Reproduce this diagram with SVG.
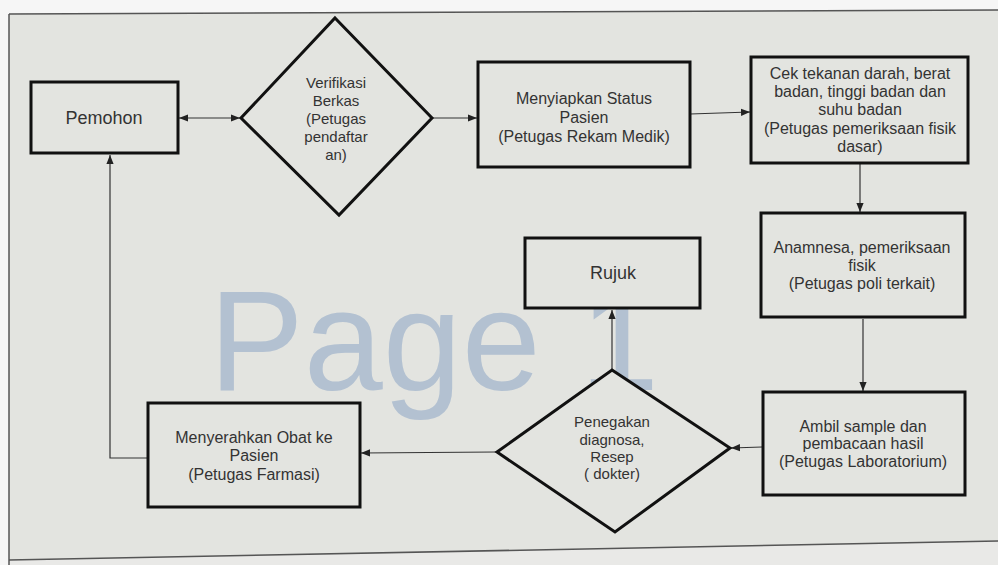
<svg xmlns="http://www.w3.org/2000/svg" width="998" height="565" viewBox="0 0 998 565">
<style>
.box{fill:#e3e4e0;stroke:#111;stroke-width:3}
.t{font-family:"Liberation Sans",Arial,sans-serif;font-size:16px;fill:#333;text-anchor:middle}
.d{font-size:15px}
.big{font-size:18px}
.c{fill:none;stroke:#333;stroke-width:1.2}
.edge{stroke:#555;stroke-width:1.5;fill:none}
.wm{font-family:"Liberation Sans",Arial,sans-serif;font-size:142px;fill:#b3c1d1}
</style>
<defs>
<marker id="ah" viewBox="0 0 10 10" refX="10" refY="5" markerWidth="9" markerHeight="9" orient="auto-start-reverse" markerUnits="userSpaceOnUse"><path d="M0,1 L10,5 L0,9 z" fill="#222"/></marker>
</defs>
<rect x="0" y="0" width="998" height="565" fill="#f6f6f6"/>
<polygon points="9,14 998,10 998,565 9,565" fill="#e3e4e0"/>
<polygon points="9,560 998,541 998,565 9,565" fill="#e9e9e7"/>
<line class="edge" x1="9" y1="14" x2="998" y2="10"/>
<line class="edge" x1="9" y1="14" x2="9" y2="565"/>
<line class="edge" x1="9" y1="560" x2="998" y2="541"/>
<text class="wm" x="209" y="390">Page 1</text>
<g id="connectors">
<path class="c" d="M179,118 L240,118" marker-start="url(#ah)" marker-end="url(#ah)"/>
<path class="c" d="M433,118 L477,118" marker-end="url(#ah)"/>
<path class="c" d="M690,114 L750,112" marker-end="url(#ah)"/>
<path class="c" d="M860,164 L860,212" marker-end="url(#ah)"/>
<path class="c" d="M863,319 L863,391" marker-end="url(#ah)"/>
<path class="c" d="M762,447 L731,448" marker-end="url(#ah)"/>
<path class="c" d="M612,369 L612,310" marker-end="url(#ah)"/>
<path class="c" d="M496,452 L361,453" marker-end="url(#ah)"/>
<path class="c" d="M147,458 H110 V155" marker-end="url(#ah)"/>
</g>
<g id="pemohon">
<rect class="box" x="31" y="82" width="147" height="71"/>
<text class="t big" x="104" y="124">Pemohon</text>
</g>
<g id="verifikasi">
<polygon class="box" points="335,18 432,118 339,215 241,118"/>
<text class="t d"><tspan x="336" y="88">Verifikasi</tspan><tspan x="336" y="106">Berkas</tspan><tspan x="336" y="124">(Petugas</tspan><tspan x="336" y="142">pendaftar</tspan><tspan x="336" y="160">an)</tspan></text>
</g>
<g id="menyiapkan">
<rect class="box" x="478" y="62" width="212" height="105"/>
<text class="t"><tspan x="584" y="104">Menyiapkan Status</tspan><tspan x="584" y="123">Pasien</tspan><tspan x="584" y="142">(Petugas Rekam Medik)</tspan></text>
</g>
<g id="cek">
<rect class="box" x="751" y="57" width="217" height="106"/>
<text class="t"><tspan x="860" y="79">Cek tekanan darah, berat</tspan><tspan x="860" y="97">badan, tinggi badan dan</tspan><tspan x="860" y="115">suhu badan</tspan><tspan x="860" y="134">(Petugas pemeriksaan fisik</tspan><tspan x="860" y="152">dasar)</tspan></text>
</g>
<g id="anamnesa">
<rect class="box" x="761" y="213" width="204" height="104"/>
<text class="t"><tspan x="862" y="253">Anamnesa, pemeriksaan</tspan><tspan x="862" y="271">fisik</tspan><tspan x="862" y="289">(Petugas poli terkait)</tspan></text>
</g>
<g id="ambil">
<rect class="box" x="763" y="392" width="202" height="103"/>
<text class="t"><tspan x="863" y="432">Ambil sample dan</tspan><tspan x="863" y="449">pembacaan hasil</tspan><tspan x="863" y="467">(Petugas Laboratorium)</tspan></text>
</g>
<g id="penegakan">
<polygon class="box" points="612,370 730,448 615,532 497,452"/>
<text class="t d"><tspan x="612" y="427">Penegakan</tspan><tspan x="612" y="445">diagnosa,</tspan><tspan x="612" y="462">Resep</tspan><tspan x="612" y="479">( dokter)</tspan></text>
</g>
<g id="rujuk">
<rect class="box" x="525" y="238" width="175" height="70"/>
<text class="t big" x="613" y="279">Rujuk</text>
</g>
<g id="menyerahkan">
<rect class="box" x="148" y="403" width="212" height="104"/>
<text class="t"><tspan x="254" y="443">Menyerahkan Obat ke</tspan><tspan x="254" y="461">Pasien</tspan><tspan x="254" y="480">(Petugas Farmasi)</tspan></text>
</g>
</svg>
